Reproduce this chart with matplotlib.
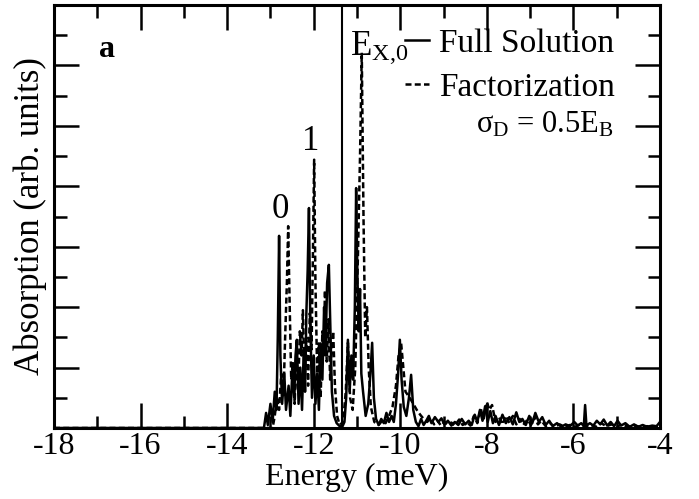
import matplotlib
matplotlib.use("Agg")
import matplotlib.pyplot as plt
from matplotlib.ticker import MultipleLocator, NullFormatter

plt.rcParams['font.family'] = ['Liberation Serif', 'DejaVu Serif']
plt.rcParams['mathtext.fontset'] = 'custom'
plt.rcParams['mathtext.rm'] = 'Liberation Serif'
plt.rcParams['mathtext.it'] = 'Liberation Serif:italic'
plt.rcParams['axes.unicode_minus'] = False

# ---- data (energy in meV, absorption in arb. units) ----
full_solution = [
    (-18.0, 0), (-13.15, 0), (-13.10, 0.25), (-13.06, 0.05), (-13.00, 0.4), (-12.95, 0.1),
    (-12.90, 0.6), (-12.86, 0.3), (-12.83, 1.5), (-12.80, 3.18), (-12.77, 1.2), (-12.73, 0.4),
    (-12.68, 0.9), (-12.64, 0.3), (-12.58, 0.7), (-12.54, 0.2), (-12.49, 1.0), (-12.45, 0.5),
    (-12.42, 1.2), (-12.39, 1.46), (-12.35, 0.4), (-12.31, 1.0), (-12.27, 0.3), (-12.23, 1.3),
    (-12.20, 0.6), (-12.17, 1.9), (-12.14, 2.6), (-12.11, 3.64), (-12.08, 1.8), (-12.04, 0.5),
    (-12.00, 1.2), (-11.96, 0.4), (-11.92, 0.9), (-11.88, 0.3), (-11.84, 1.4), (-11.80, 0.8),
    (-11.76, 2.0), (-11.73, 1.2), (-11.69, 2.4), (-11.65, 2.70), (-11.62, 1.8), (-11.58, 0.6),
    (-11.53, 0.2), (-11.47, 0.08), (-11.40, 0.03), (-11.34, 0.02),
    (-11.29, 0.1), (-11.25, 0.5), (-11.21, 1.46), (-11.17, 0.6), (-11.13, 1.2), (-11.09, 0.8),
    (-11.05, 2.0), (-11.02, 3.97), (-10.99, 2.5), (-10.96, 1.6), (-10.93, 2.3), (-10.90, 0.9),
    (-10.86, 0.6), (-10.80, 0.2), (-10.74, 0.4), (-10.69, 0.9), (-10.65, 1.41), (-10.61, 0.5),
    (-10.56, 0.15), (-10.50, 0.05), (-10.44, 0.15), (-10.38, 0.08), (-10.32, 0.25), (-10.26, 0.1),
    (-10.20, 0.2), (-10.15, 0.1), (-10.10, 0.4), (-10.05, 0.9), (-10.01, 1.46), (-9.97, 0.8),
    (-9.92, 0.35), (-9.86, 0.2), (-9.80, 0.5), (-9.75, 0.88), (-9.70, 0.3), (-9.64, 0.1),
    (-9.58, 0.03), (-9.52, 0.15), (-9.46, 0.05), (-9.40, 0.12), (-9.34, 0.2), (-9.28, 0.08),
    (-9.20, 0.18), (-9.12, 0.1), (-9.05, 0.16), (-8.98, 0.06), (-8.90, 0.12), (-8.82, 0.04),
    (-8.74, 0.1), (-8.66, 0.05), (-8.58, 0.15), (-8.50, 0.06), (-8.42, 0.12), (-8.35, 0.05),
    (-8.28, 0.22), (-8.22, 0.1), (-8.16, 0.3), (-8.10, 0.12), (-8.04, 0.36), (-7.98, 0.1),
    (-7.92, 0.28), (-7.86, 0.08), (-7.80, 0.2), (-7.72, 0.05), (-7.64, 0.22), (-7.56, 0.08),
    (-7.48, 0.18), (-7.40, 0.06), (-7.32, 0.26), (-7.25, 0.1), (-7.18, 0.15), (-7.10, 0.05),
    (-7.02, 0.2), (-6.95, 0.08), (-6.88, 0.25), (-6.80, 0.1), (-6.72, 0.18), (-6.64, 0.05),
    (-6.56, 0.12), (-6.48, 0.03), (-6.38, 0.08), (-6.28, 0.02), (-6.18, 0.06), (-6.08, 0.03),
    (-5.98, 0.1), (-5.90, 0.04), (-5.82, 0.08), (-5.76, 0.03), (-5.73, 0.38), (-5.70, 0.04),
    (-5.62, 0.08), (-5.54, 0.04), (-5.46, 0.12), (-5.38, 0.06), (-5.30, 0.14), (-5.22, 0.04),
    (-5.14, 0.1), (-5.06, 0.03), (-4.98, 0.12), (-4.90, 0.04), (-4.80, 0.08), (-4.70, 0.02),
    (-4.60, 0.06), (-4.50, 0.02), (-4.40, 0.05), (-4.30, 0.02), (-4.18, 0.04), (-4.08, 0.03),
    (-4.0, 0.1),
]

factorization = [
    (-18.0, 0), (-12.95, 0), (-12.90, 0.2), (-12.85, 0.5), (-12.80, 0.3), (-12.75, 0.9),
    (-12.70, 0.5), (-12.66, 1.5), (-12.62, 2.4), (-12.59, 3.34), (-12.56, 2.2), (-12.52, 0.8),
    (-12.48, 1.1), (-12.44, 0.4), (-12.40, 1.3), (-12.36, 0.6), (-12.32, 1.6), (-12.28, 1.2),
    (-12.25, 1.95), (-12.21, 0.8), (-12.17, 1.5), (-12.13, 0.7), (-12.09, 1.9), (-12.05, 1.3),
    (-12.02, 2.8), (-11.99, 4.44), (-11.96, 2.4), (-11.92, 0.9), (-11.88, 1.4), (-11.84, 0.5),
    (-11.80, 1.6), (-11.77, 1.2), (-11.74, 2.28), (-11.70, 1.1), (-11.66, 1.8), (-11.62, 0.8),
    (-11.58, 1.4), (-11.55, 1.6), (-11.51, 0.7), (-11.46, 0.2), (-11.40, 0.05), (-11.32, 0.1),
    (-11.26, 0.6), (-11.21, 1.41),
    (-11.16, 0.5), (-11.10, 0.3), (-11.04, 1.0), (-10.98, 2.8), (-10.93, 4.5), (-10.89, 6.21),
    (-10.85, 3.5), (-10.81, 1.5), (-10.77, 2.0), (-10.73, 1.0), (-10.68, 0.35), (-10.60, 0.1),
    (-10.50, 0.05), (-10.42, 0.12), (-10.34, 0.08), (-10.26, 0.2), (-10.18, 0.35), (-10.10, 0.7),
    (-10.04, 1.2), (-9.98, 1.40), (-9.93, 1.0), (-9.88, 0.6), (-9.83, 0.55), (-9.78, 0.5),
    (-9.70, 0.4), (-9.62, 0.3), (-9.54, 0.22), (-9.46, 0.15), (-9.38, 0.1), (-9.30, 0.16),
    (-9.22, 0.06), (-9.14, 0.12), (-9.06, 0.04), (-8.98, 0.1), (-8.90, 0.05), (-8.82, 0.09),
    (-8.74, 0.04), (-8.64, 0.14), (-8.56, 0.05), (-8.46, 0.1), (-8.38, 0.04), (-8.30, 0.2),
    (-8.22, 0.08), (-8.14, 0.32), (-8.08, 0.15), (-8.00, 0.43), (-7.94, 0.3), (-7.88, 0.38),
    (-7.80, 0.1), (-7.72, 0.18), (-7.64, 0.06), (-7.56, 0.2), (-7.48, 0.08), (-7.40, 0.2),
    (-7.32, 0.06), (-7.24, 0.15), (-7.16, 0.05), (-7.06, 0.14), (-6.98, 0.05), (-6.90, 0.18),
    (-6.82, 0.06), (-6.74, 0.12), (-6.64, 0.03), (-6.54, 0.08), (-6.44, 0.02), (-6.32, 0.06),
    (-6.20, 0.02), (-6.08, 0.05), (-5.96, 0.02), (-5.84, 0.06), (-5.72, 0.03), (-5.60, 0.05),
    (-5.48, 0.02), (-5.36, 0.08), (-5.24, 0.03), (-5.12, 0.06), (-5.00, 0.02), (-4.88, 0.06),
    (-4.74, 0.02), (-4.60, 0.04), (-4.46, 0.02), (-4.30, 0.03), (-4.15, 0.02), (-4.0, 0.04),
]

exciton_energy = -11.35
x_ticks = [-18, -16, -14, -12, -10, -8, -6, -4]
x_tick_labels = ["-18", "-16", "-14", "-12", "-10", "-8", "-6", "-4"]
series_labels = ["Full Solution", "Factorization"]

full_E, full_A = zip(*full_solution)
fact_E, fact_A = zip(*factorization)

fig = plt.figure(figsize=(6.99, 4.99), dpi=100)
ax = fig.add_axes([54/699, 1-428/499, (660-54)/699, (428-5)/499])

ax.plot(full_E, full_A, color='black', lw=1.8, label=series_labels[0])
ax.plot(fact_E, fact_A, color='black', lw=1.8, linestyle=(0, (2.4, 1.3)), label=series_labels[1])
ax.axvline(exciton_energy, color='black', lw=1.5)

ax.set_xlim(-18, -4)
ax.set_ylim(0, 7)
ax.set_xticks(x_ticks)
ax.set_xticklabels(x_tick_labels)
ax.xaxis.set_minor_locator(MultipleLocator(1))
ax.yaxis.set_major_locator(MultipleLocator(1))
ax.yaxis.set_minor_locator(MultipleLocator(0.5))
ax.yaxis.set_major_formatter(NullFormatter())
ax.tick_params(which='both', direction='in', top=True, right=True, width=1.8, labelsize=23, pad=3)
ax.tick_params(which='major', length=18)
ax.tick_params(which='minor', length=9)
for s in ax.spines.values():
    s.set_linewidth(2.2)

ax.set_xlabel("Energy (meV)", fontsize=23, labelpad=1)
ax.set_ylabel("Absorption (arb. units)", fontsize=25, labelpad=2)

leg = ax.legend(loc='upper left', bbox_to_anchor=(0.58, 0.945), frameon=False, fontsize=24,
                handlelength=0.7, handletextpad=0.3, borderpad=0, borderaxespad=0,
                labelspacing=0.4)

ax.text(-16.78, 6.26, "a", fontsize=23, fontweight='bold', ha='center', va='center')
ax.text(-12.78, 3.61, "0", fontsize=25, ha='center', va='center')
ax.text(-12.06, 4.74, "1", fontsize=25, ha='center', va='center')
ax.text(-11.16, 6.18, r"E$_{\mathrm{X{,}0}}$", fontsize=25, ha='left', va='baseline')
ax.text(-6.66, 5.02, r"σ$_{\mathrm{D}}$ = 0.5E$_{\mathrm{B}}$", fontsize=22, ha='center', va='center')

fig.savefig("out.png", dpi=100)
